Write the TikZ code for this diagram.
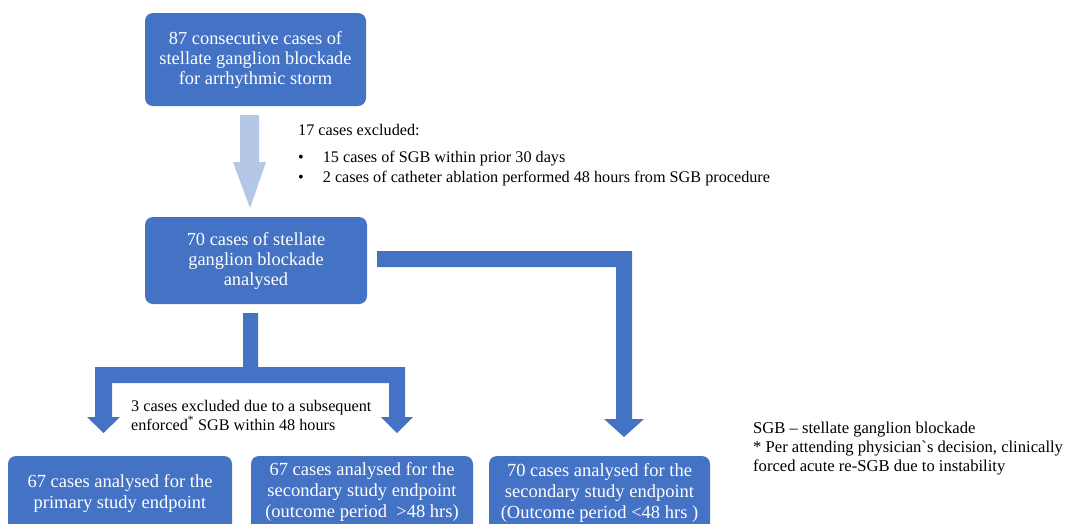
\documentclass[tikz,border=0pt]{standalone}
\usepackage{fontspec}
\setmainfont{Liberation Serif}[Ligatures=TeXOff]
\definecolor{boxblue}{HTML}{4472C4}
\definecolor{lightblue}{HTML}{B4C7E7}
\begin{document}
\begin{tikzpicture}[x=1pt,y=-1pt,
  bluebox/.style={fill=boxblue,draw=none,rounded corners=8pt},
  boxtext/.style={text=white,align=center,font=\fontsize{18.4}{19.6}\selectfont,inner sep=0pt},
  boxtextb/.style={text=white,align=center,font=\fontsize{18.5}{21}\selectfont,inner sep=0pt},
  blacktext/.style={text=black,anchor=base west,font=\fontsize{16.2}{19}\selectfont,inner sep=0pt},
  legendtext/.style={text=black,anchor=base west,font=\fontsize{16.6}{19}\selectfont,inner sep=0pt},
  blockarrow/.style={fill=boxblue,draw=none}]
\useasboundingbox (0,0) rectangle (1069,523);
\clip (0,0) rectangle (1069,523);
% boxes
\path[bluebox] (145,13) rectangle (366,106);
\node[boxtext] (b1) at (255.5,60) {87 consecutive cases of\\stellate ganglion blockade\\for arrhythmic storm};
\path[bluebox] (145,217) rectangle (367,304);
\node[boxtext] (b2) at (256,261) {70 cases of stellate\\ganglion blockade\\analysed};
\path[bluebox] (8,456) rectangle (232,560);
\node[boxtextb] (bA) at (120,493) {67 cases analysed for the\\primary study endpoint};
\path[bluebox] (251,456) rectangle (473,560);
\node[boxtextb] (bB) at (362,492) {67 cases analysed for the\\secondary study endpoint\\(outcome period\ \ >48 hrs)};
\path[bluebox] (489,456) rectangle (710,560);
\node[boxtextb] (bC) at (599.5,493) {70 cases analysed for the\\secondary study endpoint\\(Outcome period <48 hrs\ )};
% light arrow
\fill[lightblue] (240,115) -- (259,115) -- (259,162) -- (266,162) -- (250,208) -- (233,162) -- (240,162) -- cycle;
% split arrow
\path[blockarrow] (243,313) -- (258,313) -- (258,367) -- (405,367) -- (405,417) -- (413,417) -- (397,433) -- (381,417) -- (389,417) -- (389,383) -- (112,383) -- (112,417) -- (120,417) -- (103.5,433) -- (87,417) -- (95,417) -- (95,367) -- (243,367) -- cycle;
% right elbow arrow
\path[blockarrow] (377,251) -- (632,251) -- (632,419) -- (644,419) -- (624,437) -- (604,419) -- (616,419) -- (616,267) -- (377,267) -- cycle;
% texts
\node[blacktext] (ex) at (298,135) {17 cases excluded:};
\node[blacktext] (ex1) at (298,162) {\textbullet\hspace{19pt}15 cases of SGB within prior 30 days};
\node[blacktext] (ex2) at (298,182) {\textbullet\hspace{19pt}2 cases of catheter ablation performed 48 hours from SGB procedure};
\node[blacktext] (ex3) at (131,411) {3 cases excluded due to a subsequent};
\node[blacktext] (ex4) at (131,430) {enforced\textsuperscript{*} SGB within 48 hours};
\node[legendtext] (lg1) at (753,433) {SGB – stellate ganglion blockade};
\node[legendtext] (lg2) at (753,452) {* Per attending physician`s decision, clinically};
\node[legendtext] (lg3) at (753,471) {forced acute re-SGB due to instability};
\end{tikzpicture}
\end{document}
